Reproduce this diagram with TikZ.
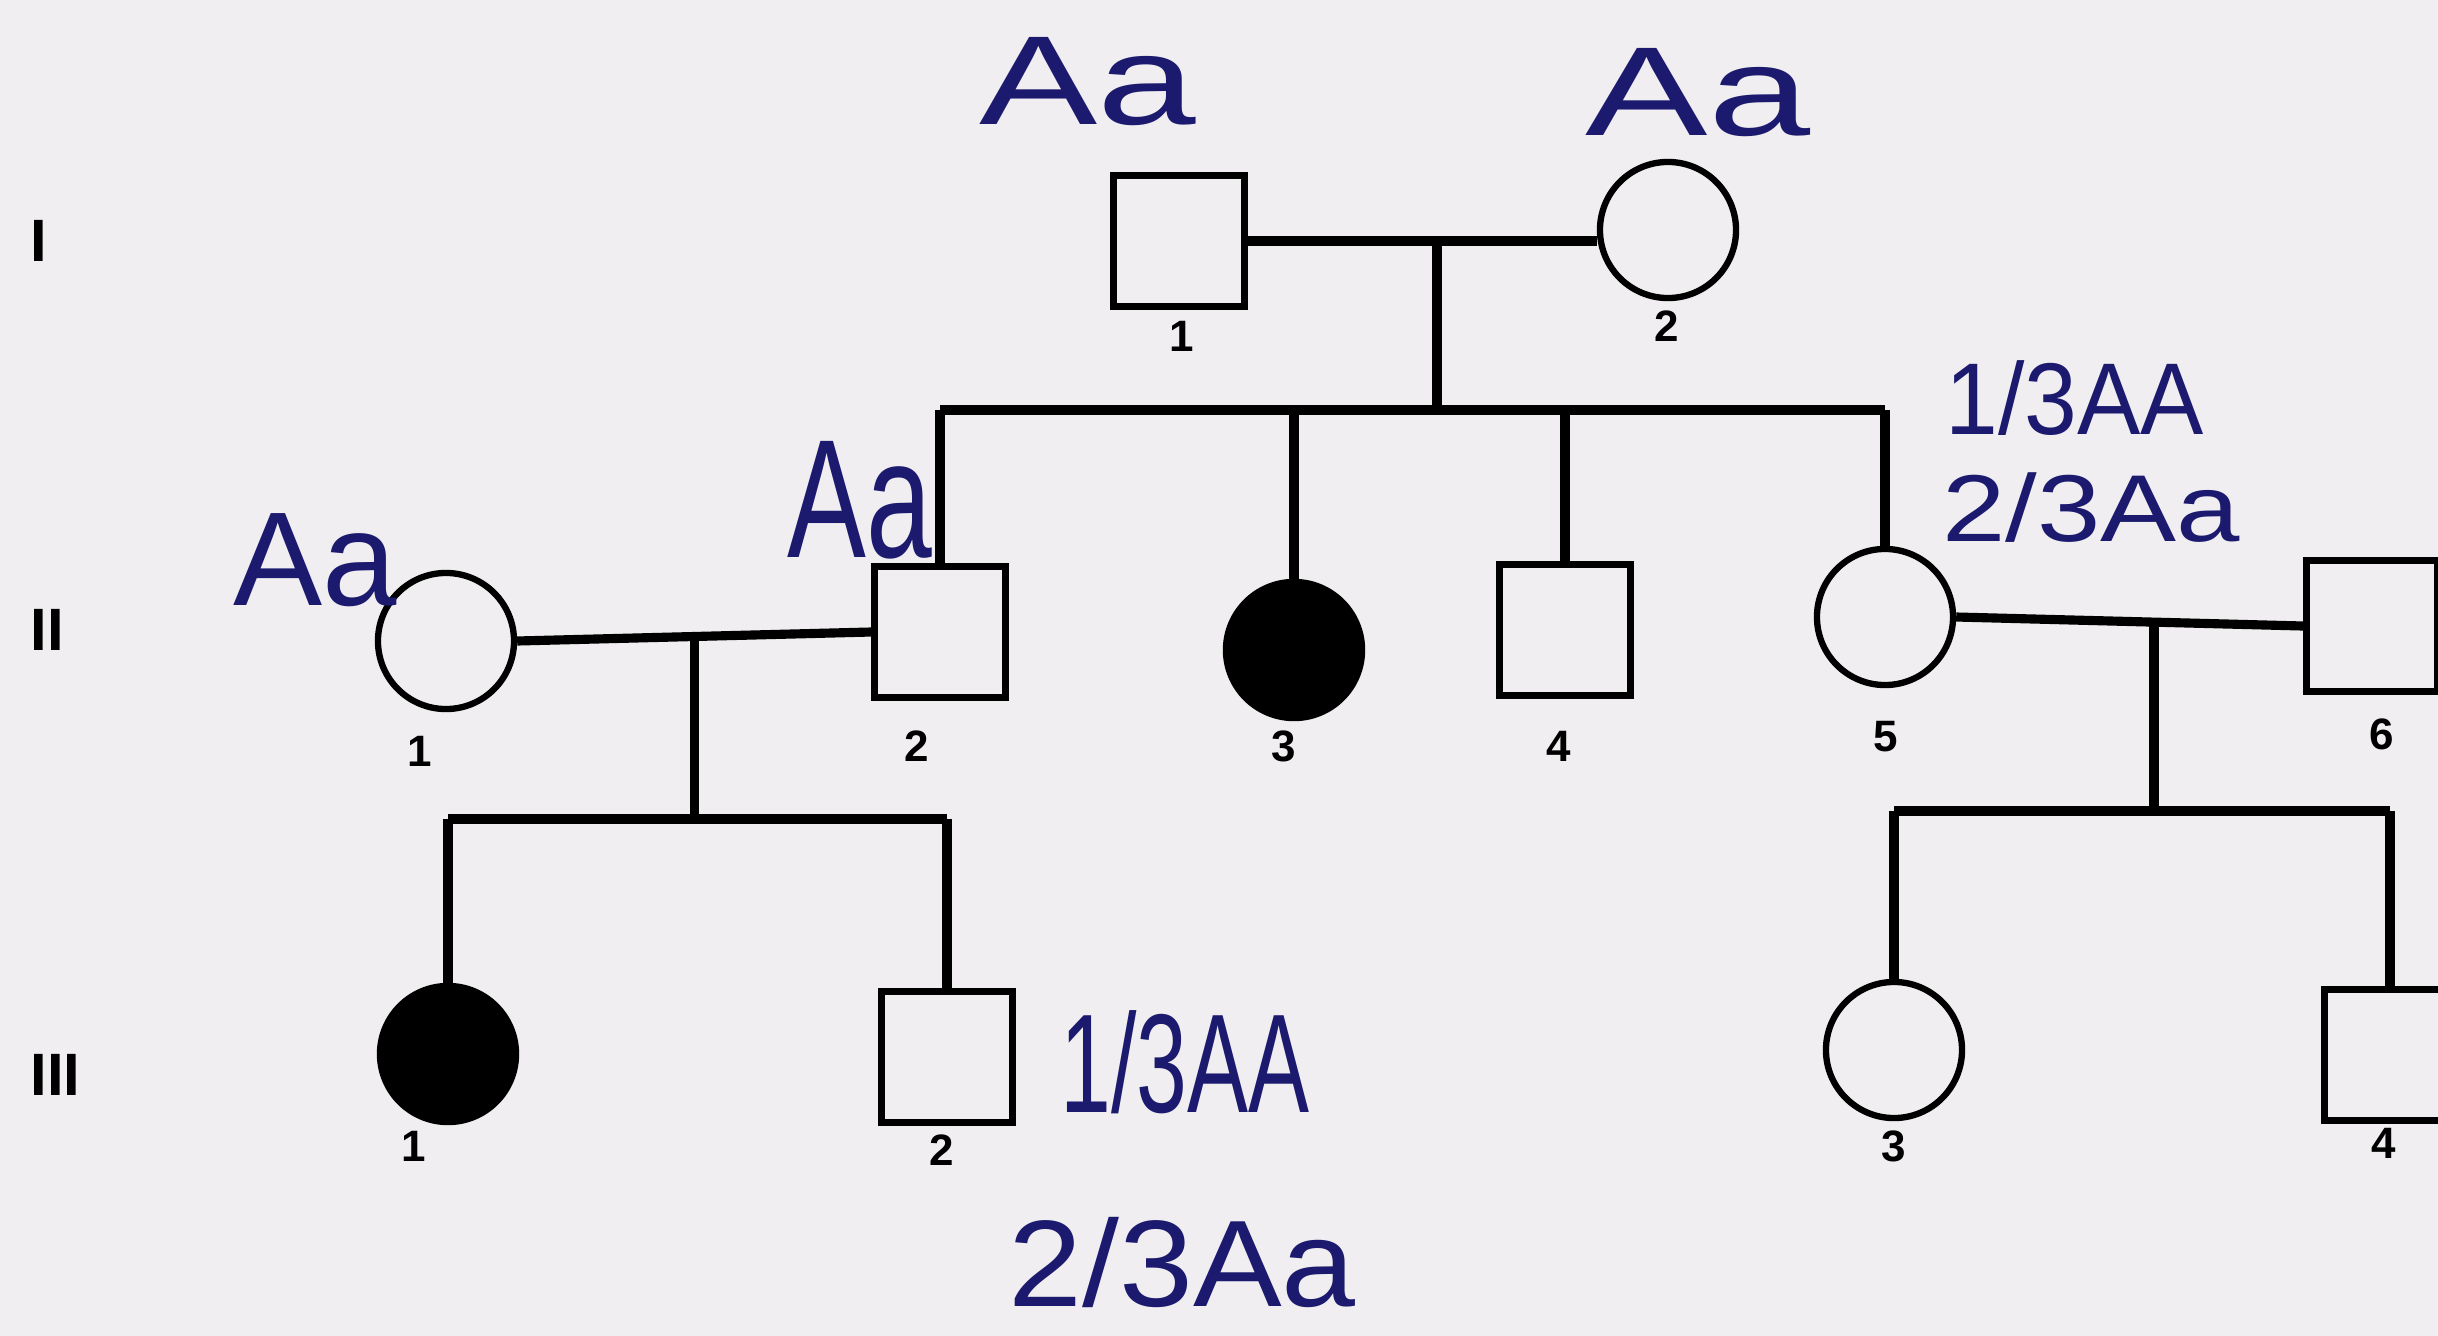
\documentclass[tikz,border=0pt]{standalone}
\usepackage{fontspec}
\usepackage{graphicx}
\setmainfont{Liberation Sans}
\usetikzlibrary{calc}
\definecolor{paper}{HTML}{F0EEF0}
\definecolor{ink}{HTML}{1B1A6E}
\newcommand{\hwtext}[3]{\scalebox{#2}[1]{\fontsize{#1}{#1}\selectfont #3}}
\begin{document}
\begin{tikzpicture}[x=0.01cm,y=-0.01cm,
  male/.style={draw=black,line width=1.9pt,rectangle,minimum size=1.31cm,inner sep=0pt},
  female/.style={draw=black,line width=1.8pt,circle,minimum size=1.36cm,inner sep=0pt},
  affected/.style={fill=black},
  gen/.style={font=\fontsize{17}{17}\selectfont\bfseries,anchor=west,inner sep=0pt},
  num/.style={font=\fontsize{12.5}{12.5}\selectfont\bfseries,inner sep=0pt},
  link/.style={line width=2.6pt},
  hw/.style={text=ink,inner sep=0pt}]
\clip (0,0) rectangle (2438,1336);
\fill[paper] (0,0) rectangle (2438,1336);

% generation labels
\node[gen] (gI) at (30,241) {I};
\node[gen] (gII) at (30,630) {II};
\node[gen] (gIII) at (30,1075) {III};

% individuals
\node[male] (I1) at (1179,241) {};
\node[female] (I2) at (1668,230) {};
\node[female] (II1) at (446,641) {};
\node[male] (II2) at (940,632) {};
\node[female,affected] (II3) at (1294,650) {};
\node[male] (II4) at (1565,630) {};
\node[female] (II5) at (1885,617) {};
\node[male] (II6) at (2372,626) {};
\node[female,affected] (III1) at (448,1054) {};
\node[male] (III2) at (947,1057) {};
\node[female] (III3) at (1894,1050) {};
\node[male] (III4) at (2390,1055) {};

% numbers
\node[num] (nI1) at (1182,336) {1};
\node[num] (nI2) at (1667,326) {2};
\node[num] (nII1) at (420,751) {1};
\node[num] (nII2) at (917,746) {2};
\node[num] (nII3) at (1284,746) {3};
\node[num] (nII4) at (1559,746) {4};
\node[num] (nII5) at (1886,737) {5};
\node[num] (nII6) at (2382,734) {6};
\node[num] (nIII1) at (414,1146) {1};
\node[num] (nIII2) at (942,1150) {2};
\node[num] (nIII3) at (1894,1146) {3};
\node[num] (nIII4) at (2384,1143) {4};

% generation I mating and sibship
\draw[link] (I1.east) -- (I1.east -| I2.west);
\coordinate (c1) at (1437,241);
\coordinate (s1) at (1437,410);
\draw[link] (c1) -- (s1);
\draw[link] (II2.north |- s1) -- (II5.north |- s1);
\draw[link] (II2.north |- s1) -- (II2.north);
\draw[link] (II3.north |- s1) -- (II3.north);
\draw[link] (II4.north |- s1) -- (II4.north);
\draw[link] (II5.north |- s1) -- (II5.north);

% II-1 x II-2
\draw[link] (II1.east) -- (II2.west);
\coordinate (c2) at ($(II1.east)!0.5!(II2.west)$);
\coordinate (s2) at (693,819);
\draw[link] (c2) -- (c2 |- s2);
\draw[link] (III1.north |- s2) -- (III2.north |- s2);
\draw[link] (III1.north |- s2) -- (III1.north);
\draw[link] (III2.north |- s2) -- (III2.north);

% II-5 x II-6
\draw[link] (II5.east) -- (II6.west);
\coordinate (c3) at ($(II5.east)!0.57!(II6.west)$);
\coordinate (s3) at (2153,811);
\draw[link] (c3) -- (c3 |- s3);
\draw[link] (III3.north |- s3) -- (III4.north |- s3);
\draw[link] (III3.north |- s3) -- (III3.north);
\draw[link] (III4.north |- s3) -- (III4.north);

% handwritten genotypes
\node[hw] (hI1) at (1088,82) {\hwtext{36}{1.4}{Aa}};
\node[hw] (hI2) at (1698,93) {\hwtext{36}{1.45}{Aa}};
\node[hw] (hII1) at (315,560) {\hwtext{38}{1.0}{Aa}};
\node[hw] (hII2) at (860,500) {\hwtext{48}{0.7}{Aa}};
\node[hw] (hII5a) at (2075,398) {\hwtext{29}{0.93}{1/3AA}};
\node[hw] (hII5b) at (2091,508) {\hwtext{27}{1.2}{2/3Aa}};
\node[hw] (hIII2a) at (1185,1062) {\hwtext{40}{0.65}{1/3AA}};
\node[hw] (hIII2b) at (1182,1262) {\hwtext{35}{1.08}{2/3Aa}};
\end{tikzpicture}
\end{document}
